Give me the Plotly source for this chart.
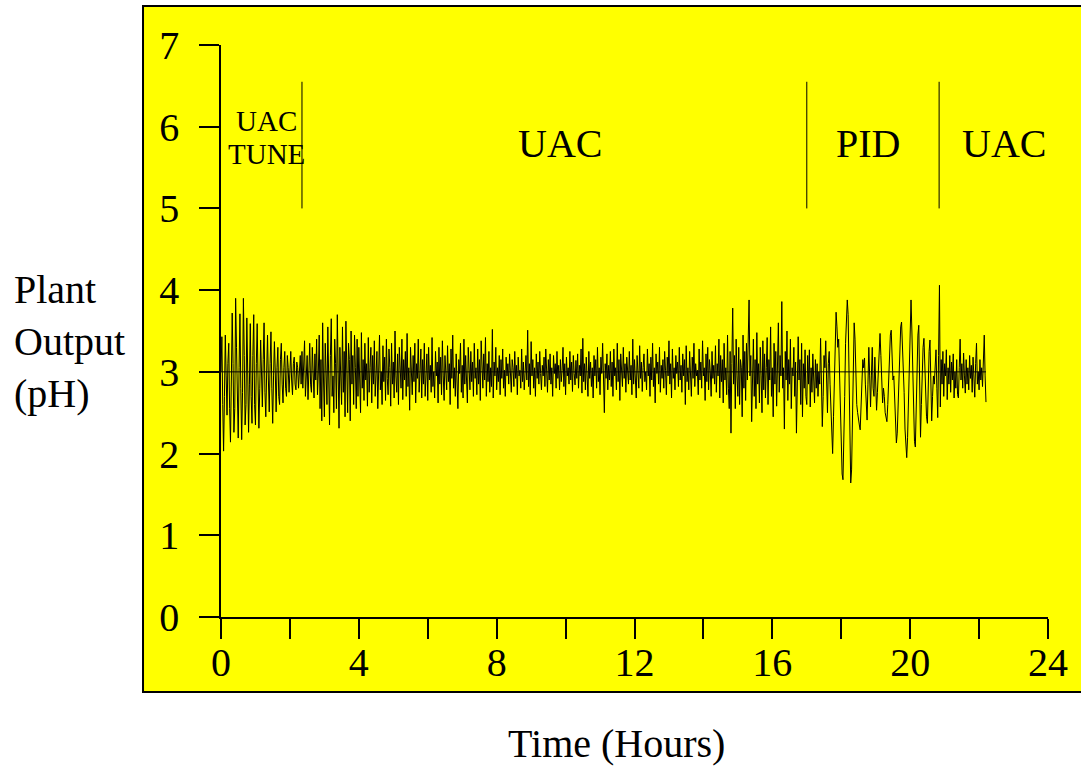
import numpy as np
import plotly.graph_objects as go

# Sampling of the pH record (hours)
sample_interval = 0.025

# Plant output (pH), one list per control phase
ph_tune = [
    3.00, 3.43, 2.60, 2.03, 2.70, 3.45, 2.95, 2.47, 3.10, 3.35,
    2.55, 2.14, 2.90, 3.72, 3.10, 2.26, 2.55, 3.90, 3.30, 2.40,
    2.19, 3.05, 3.71, 2.80, 2.17, 2.75, 3.90, 3.20, 2.35, 2.60,
    3.66, 3.00, 2.26, 2.85, 3.59, 2.70, 2.37, 3.20, 3.70, 2.60,
    2.35, 3.10, 3.59, 2.90, 2.31, 2.80, 3.39, 3.00, 2.57, 3.15,
    3.60, 2.75, 2.45, 3.00, 3.45, 2.90, 2.51, 3.10, 3.49, 2.80,
    2.37, 2.95, 3.37, 3.00, 2.51, 3.05, 3.30, 2.70, 2.60, 3.15,
    3.35, 2.85, 2.62, 3.05, 3.25, 2.80, 2.70, 3.20, 3.05, 2.75,
    2.95, 3.25, 2.90, 2.72, 3.10, 3.18, 2.85, 2.78, 3.12, 3.05,
    2.80, 3.00, 3.20, 2.85,
]

ph_uac1 = [
    3.25, 2.80, 3.05, 3.38, 2.70, 2.95, 3.20, 2.66, 3.10, 3.35, 2.85, 2.75, 3.30, 3.05, 2.68, 3.22, 2.90, 3.40, 2.72, 3.00,
    3.45, 2.55, 3.15, 2.40, 3.60, 2.90, 2.45, 3.35, 3.05, 2.60, 3.55, 2.85, 2.35, 3.20, 3.65, 2.70, 2.95, 2.50, 3.40, 3.10,
    2.55, 3.70, 2.80, 2.31, 3.30, 3.00, 2.60, 3.55, 2.75, 3.25, 2.45, 3.62, 2.90, 2.50, 3.35, 3.15, 2.40, 3.50, 2.85, 3.20,
    2.60, 3.45, 3.05, 2.55, 3.40, 2.70, 3.30, 2.95, 2.50, 3.48, 2.80, 3.15, 2.65, 3.35, 2.90, 3.10, 2.58, 3.42, 2.75, 3.05,
    3.30, 2.62, 3.20, 2.85, 3.38, 2.70, 2.95, 3.25, 2.55, 3.15, 3.45, 2.78, 3.00, 2.60, 3.32, 2.88, 3.18, 2.65, 3.40, 2.92,
    2.72, 3.28, 3.05, 2.58, 3.35, 2.85, 3.12, 2.68, 3.50, 2.95, 2.75, 3.22, 2.60, 3.30, 3.02, 2.80, 3.40, 2.66, 3.15, 2.90,
    3.25, 2.70, 3.47, 2.82, 3.05, 2.53, 3.30, 2.98, 2.72, 3.20, 2.88, 3.35, 2.62, 3.10, 2.92, 3.40, 2.75, 3.00, 3.28, 2.68,
    3.15, 2.85, 3.35, 2.70, 3.05, 3.22, 2.65, 3.30, 2.90, 3.08, 2.75, 3.42, 2.82, 3.00, 2.68, 3.25, 2.95, 3.12, 2.62, 3.30,
    2.85, 3.18, 2.72, 3.38, 2.95, 2.65, 3.20, 3.02, 2.78, 3.32, 2.88, 3.10, 2.60, 3.28, 2.92, 3.45, 2.80, 3.05, 2.70, 3.22,
    2.90, 2.55, 3.15, 2.98, 3.35, 2.75, 3.08, 2.68, 3.40, 2.85, 3.20, 2.95, 2.62, 3.30, 3.00, 2.78, 3.25, 2.88, 3.12, 2.70,
    3.35, 2.92, 3.05, 2.72, 3.28, 2.85, 3.15, 2.65, 3.38, 2.98, 2.80, 3.22, 2.90, 3.42, 2.70, 3.10, 2.88, 3.25, 2.75, 3.05,
    2.82, 3.52, 2.68, 3.12, 2.95, 3.30, 2.78, 3.05, 2.88, 3.20, 2.72, 3.15, 2.92, 3.28, 2.80, 3.02, 2.70, 3.18, 2.95, 3.10,
    2.85, 3.22, 2.98, 2.75, 3.15, 3.05, 2.82, 3.25, 2.92, 3.08, 2.72, 3.18, 2.95, 3.02, 2.80, 3.28, 2.88, 3.12, 2.78, 3.05,
    3.20, 2.90, 3.51, 2.82, 3.10, 2.72, 3.37, 2.95, 3.15, 2.80, 3.05, 2.70, 3.22, 2.92, 3.12, 2.85, 3.25, 2.98, 2.78, 3.08,
    2.95, 3.18, 2.82, 3.28, 3.02, 2.75, 3.15, 2.90, 3.22, 2.85, 3.05, 2.70, 3.20, 2.98, 3.10, 2.80, 3.25, 2.92, 3.08, 2.78,
    3.15, 2.88, 3.02, 3.30, 2.82, 3.10, 2.72, 3.18, 2.95, 3.05, 2.85, 3.25, 2.90, 3.12, 2.76, 3.20, 2.98, 2.84, 3.14, 2.92,
    3.22, 2.80, 3.08, 2.95, 3.28, 2.74, 3.41, 2.88, 3.10, 2.78, 3.18, 3.00, 2.70, 3.25, 2.92, 3.12, 2.82, 3.05, 2.68, 3.20,
    2.95, 3.15, 2.80, 3.30, 2.88, 3.05, 2.72, 3.18, 2.98, 3.35, 2.85, 2.50, 3.10, 2.92, 3.22, 2.78, 3.08, 2.90, 3.25, 2.82,
    3.12, 2.70, 3.28, 2.95, 3.05, 2.78, 3.35, 2.88, 3.15, 2.65, 3.22, 3.00, 2.82, 3.30, 2.92, 3.10, 2.75, 3.18, 2.98, 2.85,
    3.25, 2.90, 3.08, 2.72, 3.40, 2.85, 3.15, 2.95, 2.68, 3.20, 3.02, 2.80, 3.32, 2.92, 3.12, 2.76, 3.05, 3.22, 2.88, 3.00,
    2.78, 3.28, 2.95, 3.10, 2.70, 3.18, 2.90, 3.35, 2.82, 3.05, 2.62, 3.22, 2.98, 3.12, 2.85, 3.30, 2.75, 3.08, 2.92, 3.15,
    2.80, 3.25, 3.02, 2.72, 3.18, 2.95, 3.38, 2.85, 3.10, 2.68, 3.28, 2.92, 3.05, 2.78, 3.20, 2.98, 3.12, 2.82, 3.30, 2.90,
    3.08, 2.75, 3.22, 2.95, 3.15, 2.60, 3.32, 2.88, 3.05, 2.78, 3.25, 3.00, 2.70, 3.18, 2.92, 3.35, 2.82, 3.10, 2.95, 3.02,
    2.72, 3.28, 2.90, 3.12, 2.80, 3.38, 2.95, 3.05, 2.65, 3.22, 2.88, 3.30, 2.78, 3.15, 3.00, 2.70, 3.25, 2.92, 3.08, 2.85,
    3.32, 2.75, 3.10, 2.95, 3.40, 2.68, 3.20, 2.88, 3.15, 2.62, 3.35, 2.90, 3.05, 2.72, 3.45, 2.80, 2.55, 3.25, 2.25, 3.10,
    3.78, 2.85, 3.20, 2.55, 3.40, 2.95, 2.70, 3.30, 2.60, 3.15, 3.05, 2.45, 3.45, 2.80, 3.25, 2.65, 3.35, 2.90, 3.55, 3.88,
    2.95, 3.20, 2.39, 3.05, 3.40, 2.70, 3.15, 2.55, 3.48, 2.85, 3.10, 2.62, 3.30, 2.95, 2.50, 3.38, 2.78, 3.22, 2.68, 3.05,
    3.42, 2.60, 3.15, 2.90, 3.55, 2.70, 3.05, 2.45, 3.35, 2.85, 3.25, 2.58, 3.10, 3.60, 2.75, 3.20, 2.95, 3.86, 2.80, 3.05,
    2.30, 3.25, 2.90, 3.50, 2.65, 3.15, 2.85, 3.40, 2.55, 3.05, 2.95, 3.30, 2.70, 3.12, 2.25, 2.80, 3.43, 2.90, 3.15, 2.60,
    3.35, 2.45, 3.10, 2.80, 3.27, 2.70,
]

ph_pid = [
    2.60, 3.20, 2.85, 3.27, 2.57, 3.05, 2.75, 3.22, 2.90, 2.62, 3.15, 2.80, 3.10, 2.70, 3.00, 2.85,
    3.41, 2.95, 2.33, 2.70, 3.20, 3.05, 3.38, 2.90, 2.50, 3.10, 3.25, 2.85, 2.60, 2.35,
    2.00, 2.45, 3.05, 3.50, 3.73, 3.55, 3.30, 3.40, 2.95, 2.40, 1.95, 1.75, 1.68, 2.05, 2.70, 3.35,
    3.75, 3.88, 3.70, 3.00, 2.20, 1.64, 1.80, 2.50, 3.15, 3.60, 3.40, 2.78, 2.60, 2.50, 2.40, 2.35,
    2.29, 2.55, 2.95, 3.15, 3.05, 3.17, 2.85, 2.60, 2.41, 2.85, 3.30, 2.95, 2.57, 2.95, 3.30, 2.80,
    2.70, 3.18, 2.85, 2.53, 2.75, 3.05, 3.35, 3.47, 3.20, 2.85, 2.62, 2.80, 2.70, 2.50, 2.42, 2.39,
    2.60, 2.95, 3.30, 3.45, 3.51, 3.25, 2.90, 2.95, 2.60, 2.30, 2.13, 2.25, 2.60, 3.05, 3.40, 3.55,
    3.61, 3.35, 3.20, 2.75, 2.30, 2.05, 1.95, 2.20, 2.70, 3.30, 3.70, 3.88, 3.50, 2.90, 2.45, 2.15,
    2.08, 2.55, 3.10, 3.45, 3.57, 2.95, 2.20, 2.60, 3.05, 3.30, 3.41, 3.00, 2.65, 2.45, 2.37, 2.85,
    3.25, 3.39, 2.80, 2.40, 2.70, 2.95, 2.85, 3.10, 3.27, 2.80, 2.44, 3.20,
]

ph_uac2 = [
    4.06, 2.57, 3.15, 2.85, 3.25, 2.70, 3.10, 2.95, 3.27, 2.66, 3.05, 2.85, 3.20, 2.75, 3.12, 2.90,
    3.22, 2.68, 3.00, 2.80, 3.15, 2.72, 2.68, 3.05, 3.40, 2.90, 3.10, 2.80, 3.23, 2.95, 2.74, 3.15,
    2.85, 3.05, 2.78, 3.20, 2.92, 3.08, 2.75, 3.18, 2.88, 2.69, 3.10, 3.35, 2.85, 3.00, 2.78, 3.15,
    2.90, 3.05, 2.82, 3.20, 3.45, 2.95, 2.63,
]

# Controller switch-over times (hours) and phase captions
phase_switch_times = [2.35, 17.0, 20.84]
phase_captions = ["UAC", "PID", "UAC"]
phase_caption_times = [9.84, 18.77, 22.72]
tune_caption_lines = ["UAC", "TUNE"]
tune_caption_time = 1.33
setpoint_ph = 3.0

x_tick_values = list(range(0, 25, 2))
x_tick_labels = [str(v) if v % 4 == 0 else "" for v in x_tick_values]
y_tick_values = list(range(0, 8))

ph = np.array(ph_tune + ph_uac1 + ph_pid + ph_uac2)
hours = np.arange(len(ph)) * sample_interval

FONT = "Liberation Serif, Times New Roman, serif"

fig = go.Figure()

# Setpoint line
fig.add_trace(go.Scatter(
    x=[0, hours[-1]], y=[setpoint_ph, setpoint_ph], mode="lines",
    line=dict(color="black", width=1), hoverinfo="skip", showlegend=False,
))

# Plant output
fig.add_trace(go.Scatter(
    x=hours, y=ph, mode="lines",
    line=dict(color="black", width=1), showlegend=False,
))

# Phase dividers
for t in phase_switch_times:
    fig.add_trace(go.Scatter(
        x=[t, t], y=[5.0, 6.55], mode="lines",
        line=dict(color="black", width=1), hoverinfo="skip", showlegend=False,
    ))

annotations = []
for label, t in zip(phase_captions, phase_caption_times):
    annotations.append(dict(
        x=t, y=5.8, xref="x", yref="y", text=label, showarrow=False,
        font=dict(family=FONT, size=40, color="black"),
        xanchor="center", yanchor="middle",
    ))
for i, line in enumerate(tune_caption_lines):
    annotations.append(dict(
        x=tune_caption_time, y=6.07 - 0.40 * i, xref="x", yref="y", text=line,
        showarrow=False, font=dict(family=FONT, size=29, color="black"),
        xanchor="center", yanchor="middle", borderpad=0,
    ))

# Axis titles
annotations.append(dict(
    x=0.4788, y=-0.2203, xref="paper", yref="paper", text="Time (Hours)",
    showarrow=False, font=dict(family=FONT, size=40, color="black"),
    xanchor="center", yanchor="middle",
))
annotations.append(dict(
    x=-0.2527, y=0.4808, xref="paper", yref="paper",
    text="Plant<br>Output<br>(pH)", align="left",
    showarrow=False, font=dict(family=FONT, size=40, color="black"),
    xanchor="left", yanchor="middle",
))

fig.update_layout(
    width=1081, height=767,
    margin=dict(l=221, r=33, t=45, b=150),
    paper_bgcolor="white",
    plot_bgcolor="rgba(0,0,0,0)",
    showlegend=False,
    annotations=annotations,
    shapes=[dict(
        type="rect", xref="paper", yref="paper",
        x0=-0.0943, x1=1.06, y0=-0.1311, y1=1.0682,
        fillcolor="#ffff00", line=dict(color="black", width=2), layer="below",
    )],
    xaxis=dict(
        range=[0, 24], tickvals=x_tick_values, ticktext=x_tick_labels,
        ticks="outside", ticklen=20, tickwidth=1.5, tickcolor="black",
        showline=True, linecolor="black", linewidth=1.5,
        showgrid=False, zeroline=False, ticklabelstandoff=-11,
        tickfont=dict(family=FONT, size=40, color="black"),
    ),
    yaxis=dict(
        range=[0, 7], tickvals=y_tick_values,
        ticks="outside", ticklen=20, tickwidth=1.5, tickcolor="black",
        showline=True, linecolor="black", linewidth=1.5,
        showgrid=False, zeroline=False, ticklabelstandoff=12,
        tickfont=dict(family=FONT, size=40, color="black"),
    ),
)

fig.write_html("out.html")
